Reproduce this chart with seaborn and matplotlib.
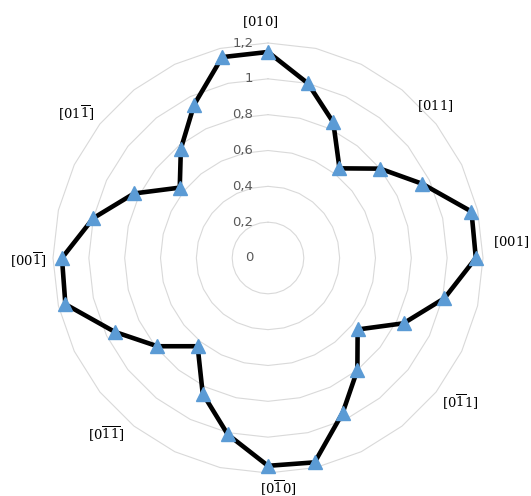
import numpy as np
import pandas as pd
import matplotlib
matplotlib.use("Agg")
import matplotlib.pyplot as plt
import seaborn as sns

# 28 directions, clockwise from [010]
values = [1.15, 1.00, 0.84, 0.64, 0.80, 0.955, 1.165,
          1.16, 1.01, 0.84, 0.64, 0.80, 0.96, 1.17,
          1.16, 1.01, 0.84, 0.63, 0.79, 0.95, 1.16,
          1.15, 1.00, 0.83, 0.63, 0.78, 0.95, 1.15]

direction_labels = [r'$[010]$', r'$[011]$', r'$[001]$', r'$[0\overline{1}1]$',
                    r'$[0\overline{1}0]$', r'$[0\overline{1}\overline{1}]$',
                    r'$[00\overline{1}]$', r'$[01\overline{1}]$']

ring_levels = [0.2, 0.4, 0.6, 0.8, 1.0, 1.2]
ring_labels = ['0', '0,2', '0,4', '0,6', '0,8', '1', '1,2']

# where Excel put the direction labels (angle in degrees, radius in data units)
label_angle = [-1.9, 47.7, 86.2, 126.9, 177.5, 222.6, 269.5, 307.0]
label_r = [1.317, 1.26, 1.359, 1.339, 1.285, 1.335, 1.34, 1.343]

n = len(values)
theta = np.arange(n) * 2 * np.pi / n
df = pd.DataFrame({'theta': np.append(theta, 2 * np.pi),
                   'r': values + values[:1]})

sns.set_theme(style="white")
plt.rcParams['mathtext.fontset'] = 'dejavuserif'

fig = plt.figure(figsize=(5.31, 4.96), dpi=100)
ax = fig.add_axes([0.0998, 0.0464, 0.8098, 0.8669], projection='polar')
ax.set_theta_zero_location('N')
ax.set_theta_direction(-1)
ax.set_ylim(0, 1.2)
ax.grid(False)
ax.set_xticks([])
ax.set_yticks([])
ax.spines['polar'].set_visible(False)
ax.set_facecolor('none')

# polygon gridlines like Excel's radar chart
poly_t = np.append(theta, 2 * np.pi)
for lev in ring_levels:
    ax.plot(poly_t, [lev] * len(poly_t), color='#D9D9D9', lw=0.8, zorder=1, clip_on=False)

sns.lineplot(data=df, x='theta', y='r', ax=ax, color='black', lw=3.3,
             sort=False, zorder=3, legend=False)
ax.plot(theta, values, ls='none', marker='^', ms=9.5, color='#5B9BD5',
        mec='#5B9BD5', zorder=4, clip_on=False)

for lev, txt in zip([0.0] + ring_levels, ring_labels):
    ax.annotate(txt, xy=(0, lev), xytext=(-10.5, 0), textcoords='offset points',
                ha='right', va='center', fontsize=9.5, color='#595959',
                family='DejaVu Sans', annotation_clip=False)

for lab, ang, rr in zip(direction_labels, label_angle, label_r):
    ax.text(np.deg2rad(ang), rr, lab, ha='center', va='center',
            fontsize=9.5, color='black')

ax.set_xlabel('')
ax.set_ylabel('')
fig.savefig('out.png', dpi=100)
